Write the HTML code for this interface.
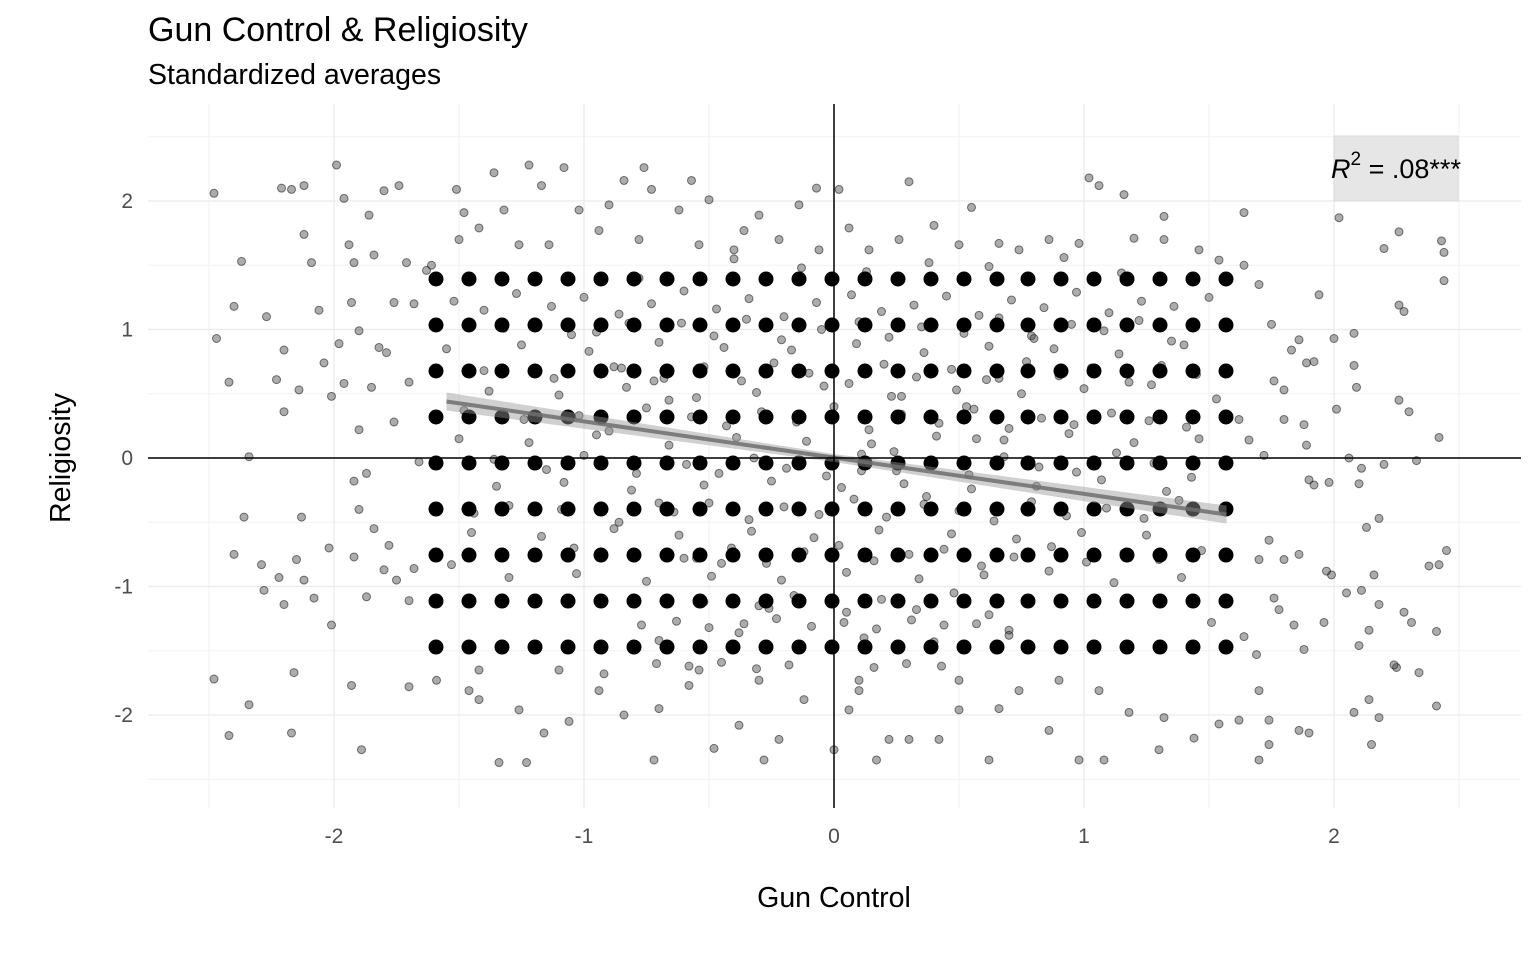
<!DOCTYPE html>
<html><head><meta charset="utf-8"><style>
body{margin:0;background:#fff;width:1536px;height:960px;overflow:hidden;font-family:"Liberation Sans",sans-serif}
</style></head><body>
<svg id="chart" width="1536" height="960" xmlns="http://www.w3.org/2000/svg" font-family="Liberation Sans, sans-serif">
<text x="148" y="41" font-size="34" fill="#000">Gun Control &amp; Religiosity</text>
<text x="148" y="84" font-size="28.5" fill="#000">Standardized averages</text>
<g id="grid"></g>
<g id="points"></g>
<g id="bigdots"></g>
<g id="fit"></g>
<g id="axes"></g>
<text x="834" y="907" font-size="28.5" text-anchor="middle">Gun Control</text>
<text transform="translate(70,458) rotate(-90)" font-size="28.5" text-anchor="middle">Religiosity</text>
<rect x="1334" y="136" width="124" height="65" fill="#e6e6e6" stroke="#d9d9d9"/>
<text x="1396" y="178" font-size="27" text-anchor="middle"><tspan font-style="italic">R</tspan><tspan dy="-13" font-size="19">2</tspan><tspan dy="13"> = .08***</tspan></text>
</svg>
<script>
const xTicks=[-2,-1,0,1,2];
const yTicks=[-2,-1,0,1,2];
const xTickLabels=["-2","-1","0","1","2"];
const yTickLabels=["-2","-1","0","1","2"];
const meanX=[-1.592,-1.46,-1.328,-1.196,-1.064,-0.932,-0.8,-0.668,-0.536,-0.404,-0.272,-0.14,-0.008,0.124,0.256,0.388,0.52,0.652,0.776,0.908,1.04,1.172,1.304,1.436,1.568];
const meanY=[1.393,1.035,0.677,0.319,-0.039,-0.397,-0.755,-1.113,-1.471];
const fitX=[-1.55,1.57];
const fitY=[0.44,-0.44];
const ptX=[-2.48,-2.47,-2.42,-2.37,-2.40,-2.34,-2.36,-2.40,-2.48,-2.42,-2.34,-2.29,-2.28,-2.27,-2.23,-2.20,-2.20,-2.21,-2.17,-2.12,-2.12,-2.09,-2.14,-2.16,-2.17,-2.22,-2.20,-2.12,-2.15,-2.13,-2.08,-2.02,-2.01,-2.06,-2.04,-2.01,-1.98,-1.96,-1.99,-1.96,-1.94,-1.92,-1.93,-1.90,-1.90,-1.92,-1.90,-1.92,-1.87,-1.86,-1.84,-1.85,-1.82,-1.80,-1.74,-1.79,-1.76,-1.76,-1.78,-1.80,-1.87,-1.93,-1.89,-1.84,-1.71,-1.68,-1.70,-1.70,-1.70,-1.68,-1.66,-1.63,-1.61,-1.75,
1.64,1.64,1.70,1.75,1.76,1.80,1.80,1.83,1.86,1.89,1.92,1.94,1.88,1.89,1.90,1.92,1.98,2.02,2.00,2.01,2.06,2.08,2.08,2.09,2.11,2.10,2.13,2.18,2.20,2.20,2.26,2.26,2.28,2.26,2.30,2.33,2.42,2.43,2.44,2.44,2.45,2.42,2.38,2.41,2.41,2.34,2.25,2.28,2.31,2.24,2.18,2.16,2.11,2.05,1.99,1.96,1.97,2.10,2.14,2.08,2.14,2.18,2.15,1.88,1.90,1.86,1.74,1.74,1.70,1.62,1.70,1.76,1.78,1.84,1.74,1.80,1.70,1.86,1.69,1.64,1.62,1.66,1.72,
-1.48,-1.51,-1.36,-1.32,-1.22,-1.17,-1.08,-1.02,-0.90,-0.84,-0.76,-0.73,-0.62,-0.57,-0.50,-0.36,-0.30,-0.14,-0.07,0.02,0.06,0.14,0.30,0.40,0.55,0.66,0.86,1.02,1.06,1.16,1.32,1.20,1.32,0.98,-1.50,-1.42,-1.26,-1.14,-0.94,-0.78,-0.54,-0.40,-0.22,-0.06,0.26,0.50,0.74,1.46,1.54,
-1.59,-1.46,-1.42,-1.34,-1.23,-1.26,-1.16,-1.06,-0.94,-0.84,-0.72,-0.70,-0.58,-0.48,-0.38,-0.28,-0.22,-0.12,0.00,0.06,0.10,0.17,0.22,0.30,0.42,0.50,0.62,0.66,0.74,0.86,0.98,1.08,1.18,1.30,1.32,1.44,1.54,1.06,0.90,0.50,0.10,-0.30,-0.54,-1.10,-1.42,
-1.52,-1.40,-1.27,-1.13,-1.00,-0.86,-0.73,-0.60,-0.47,-0.34,-0.20,-0.07,0.07,0.19,0.32,0.45,0.58,0.71,0.84,0.97,1.10,1.23,1.36,1.50,
-1.55,-1.38,-1.25,-1.10,-0.98,-0.83,-0.70,-0.55,-0.44,-0.31,-0.17,-0.04,0.09,0.23,0.36,0.49,0.62,0.75,0.88,1.00,1.14,1.27,1.40,1.53,
-1.50,-1.35,-1.22,-1.08,-0.95,-0.81,-0.66,-0.52,-0.39,-0.25,-0.11,0.03,0.15,0.28,0.41,0.55,0.68,0.81,0.94,1.07,1.20,1.33,1.46,
-1.45,-1.30,-1.17,-1.03,-0.88,-0.75,-0.62,-0.49,-0.33,-0.21,-0.08,0.05,0.18,0.34,0.47,0.60,0.73,0.86,0.99,1.12,1.25,1.39,1.51,
-0.77,-0.63,-0.50,-0.36,-0.23,-0.09,0.04,0.17,0.31,0.44,0.57,0.70,0.43,0.29,0.16,-0.18,-0.31,-0.45,-0.58,-0.71,0.11,0.24,0.37,0.53,0.66,0.79,-0.85,-0.66,-0.40,-0.13,0.13,0.38,0.62,0.92,1.15,
-0.92,-0.78,-0.61,-0.48,-0.35,-0.21,-0.05,0.10,0.22,0.35,0.52,0.66,0.80,0.95,1.08,1.22,1.35,-1.20,-1.05,-1.32,
-0.95,-0.82,-0.68,-0.52,-0.37,-0.24,-0.10,0.06,0.20,0.33,0.47,0.61,0.77,0.90,1.03,1.18,1.31,1.45,-1.40,-1.12,
-0.88,-0.72,-0.57,-0.43,-0.29,-0.15,0.00,0.14,0.27,0.42,0.56,0.70,0.83,0.96,1.11,1.26,1.41,-1.48,-1.24,-1.02,
-0.90,-0.75,-0.59,-0.46,-0.32,-0.19,-0.03,0.11,0.25,0.39,0.54,0.68,0.82,0.97,1.13,1.28,1.43,-1.36,-1.15,-1.00,
-0.93,-0.79,-0.64,-0.50,-0.34,-0.20,-0.06,0.08,0.21,0.36,0.50,0.64,0.79,0.93,1.09,1.24,1.38,-1.44,-1.30,-1.09,
-0.86,-0.70,-0.55,-0.41,-0.27,-0.12,0.02,0.16,0.30,0.44,0.59,0.72,0.87,1.01,1.16,1.30,1.47,-1.53,-1.19,-1.04,
-0.60,-0.45,-0.30,-0.16,0.05,0.19,0.33,0.48,0.62,-0.52,-0.26,0.12,0.40,0.70,-0.70,-0.38,0.27,0.57];
const ptY=[2.06,0.93,0.59,1.53,1.18,0.01,-0.46,-0.75,-1.72,-2.16,-1.92,-0.83,-1.03,1.10,0.61,0.36,0.84,2.10,2.09,2.12,1.74,1.52,0.53,-1.67,-2.14,-0.93,-1.14,-0.95,-0.79,-0.46,-1.09,-0.70,-1.30,1.15,0.74,0.48,0.89,0.58,2.28,2.02,1.66,1.52,1.21,0.99,0.22,-0.18,-0.40,-0.77,-0.12,1.89,1.58,0.55,0.86,2.08,2.12,0.82,0.28,1.21,-0.68,-0.87,-1.08,-1.77,-2.27,-0.55,1.52,1.20,0.59,-1.11,-1.78,-0.86,-0.03,1.46,1.50,-0.95,
1.91,1.50,1.35,1.04,0.60,0.53,0.30,0.84,0.92,0.74,0.75,1.27,0.26,0.10,-0.17,-0.21,-0.19,1.87,0.93,0.38,0.00,0.97,0.72,0.55,-0.08,-0.20,-0.54,-0.47,-0.05,1.63,1.76,1.19,1.14,0.45,0.36,-0.02,0.16,1.69,1.60,1.38,-0.72,-0.83,-0.84,-1.35,-1.93,-1.67,-1.63,-1.20,-1.28,-1.61,-1.14,-0.91,-1.03,-1.05,-0.91,-1.28,-0.88,-1.46,-1.34,-1.98,-1.88,-2.02,-2.23,-1.49,-2.14,-2.12,-2.04,-2.23,-2.35,-2.04,-1.81,-1.09,-1.18,-1.30,-0.64,-0.79,-0.79,-0.75,-1.53,-1.39,0.30,0.14,0.02,
1.91,2.09,2.22,1.93,2.28,2.12,2.26,1.93,1.97,2.16,2.26,2.09,1.93,2.16,2.01,1.77,1.89,1.97,2.10,2.09,1.79,1.62,2.15,1.81,1.95,1.67,1.70,2.18,2.12,2.05,1.88,1.71,1.70,1.67,1.70,1.79,1.66,1.66,1.77,1.70,1.66,1.62,1.70,1.62,1.70,1.66,1.62,1.62,1.54,
-1.73,-1.81,-1.88,-2.37,-2.37,-1.96,-2.14,-2.05,-1.81,-2.00,-2.35,-1.95,-1.77,-2.26,-2.08,-2.35,-2.19,-1.88,-2.27,-1.96,-1.81,-2.35,-2.19,-2.19,-2.19,-1.96,-2.35,-1.95,-1.81,-2.12,-2.35,-2.35,-1.98,-2.27,-2.02,-2.18,-2.07,-1.81,-1.73,-1.73,-1.73,-1.73,-1.65,-1.65,-1.65,
1.22,1.15,1.28,1.18,1.25,1.12,1.20,1.30,1.16,1.24,1.10,1.21,1.27,1.14,1.19,1.26,1.11,1.23,1.17,1.29,1.13,1.22,1.18,1.25,
0.85,0.52,0.88,0.49,0.83,0.55,0.90,0.47,0.86,0.51,0.84,0.56,0.89,0.48,0.82,0.53,0.87,0.50,0.85,0.54,0.81,0.57,0.88,0.46,
0.15,-0.22,0.12,-0.19,0.18,-0.25,0.10,-0.21,0.16,-0.18,0.13,-0.23,0.11,-0.20,0.17,-0.24,0.14,-0.22,0.19,-0.17,0.12,-0.26,0.15,
-0.58,-0.93,-0.61,-0.90,-0.55,-0.96,-0.60,-0.92,-0.57,-0.95,-0.62,-0.89,-0.56,-0.94,-0.59,-0.91,-0.63,-0.88,-0.58,-0.97,-0.60,-0.93,-1.28,
-1.30,-1.27,-1.32,-1.29,-1.25,-1.31,-1.28,-1.33,-1.26,-1.30,-1.29,-1.34,-1.62,-1.60,-1.63,-1.61,-1.64,-1.59,-1.62,-1.60,-0.10,0.05,-0.30,0.40,0.62,0.95,0.70,0.45,1.55,1.48,1.45,1.52,1.49,1.56,1.44,-1.68,1.40,
1.05,0.95,1.08,0.92,1.00,1.06,0.94,1.02,0.97,1.09,0.93,1.04,0.99,1.07,0.91,1.03,0.96,1.01,0.98,1.05,
0.62,0.71,0.60,0.74,0.66,0.58,0.73,0.63,0.69,0.61,0.75,0.64,0.70,0.59,0.72,0.65,0.68,0.62,0.71,0.60,
0.32,0.25,0.36,0.28,0.40,0.22,0.34,0.27,0.38,0.23,0.31,0.26,0.35,0.29,0.24,0.37,0.30,0.33,0.21,0.39,
-0.05,-0.12,0.00,-0.08,-0.14,0.03,-0.10,-0.02,-0.13,0.01,-0.07,-0.11,0.04,-0.04,-0.15,-0.01,-0.09,0.02,-0.06,-0.12,
-0.42,-0.35,-0.48,-0.38,-0.44,-0.32,-0.46,-0.36,-0.41,-0.49,-0.34,-0.45,-0.39,-0.47,-0.33,-0.43,-0.37,-0.40,-0.50,-0.35,
-0.78,-0.70,-0.82,-0.73,-0.68,-0.80,-0.75,-0.71,-0.84,-0.77,-0.69,-0.81,-0.74,-0.79,-0.72,-0.83,-0.76,-0.70,-0.78,-0.82,
-1.15,-1.07,-1.20,-1.10,-1.18,-1.05,-1.22,-1.12,-1.17,-1.40,-1.43,-1.38,-1.42,-1.36,0.48,0.15,-0.30,-0.60];
const NS="http://www.w3.org/2000/svg";
const L=148,R=1521,T=104,B=808;
const sx=v=>834+v*250, sy=v=>458-v*128.5;
function mk(tag,attrs,parent){const e=document.createElementNS(NS,tag);for(const k in attrs)e.setAttribute(k,attrs[k]);parent.appendChild(e);return e;}
const g=document.getElementById('grid');
[-2.5,-1.5,-0.5,0.5,1.5,2.5].forEach(v=>{const l=mk('line',{x1:sx(v),x2:sx(v),y1:T,y2:B,stroke:'#f2f2f2','stroke-width':1},g);});
[-2.5,-1.5,-0.5,0.5,1.5,2.5].forEach(v=>{const l=mk('line',{x1:L,x2:R,y1:sy(v),y2:sy(v),stroke:'#f2f2f2','stroke-width':1},g);});
xTicks.forEach((v,i)=>{const l=mk('line',{x1:sx(v),x2:sx(v),y1:T,y2:B,stroke:'#ebebeb','stroke-width':1.3},g);
const t=mk('text',{x:sx(v),y:843,'font-size':21,fill:'#4d4d4d','text-anchor':'middle'},g);t.textContent=xTickLabels[i];});
yTicks.forEach((v,i)=>{const l=mk('line',{x1:L,x2:R,y1:sy(v),y2:sy(v),stroke:'#ebebeb','stroke-width':1.3},g);
const t=mk('text',{x:133,y:sy(v)+7,'font-size':21,fill:'#4d4d4d','text-anchor':'end'},g);t.textContent=yTickLabels[i];});
const pg=document.getElementById('points');
ptX.forEach((x,i)=>{const c=mk('circle',{cx:sx(x),cy:sy(ptY[i]),r:4,fill:'rgba(70,70,70,0.45)',stroke:'rgba(0,0,0,0.5)','stroke-width':1},pg);});
const bg=document.getElementById('bigdots');
meanY.forEach(y=>meanX.forEach(x=>{const c=mk('circle',{cx:sx(x),cy:sy(y),r:7.5,fill:'#000'},bg);}));
const fg=document.getElementById('fit');
const x0=sx(fitX[0]),x1=sx(fitX[1]),y0=sy(fitY[0]),y1=sy(fitY[1]),xm=sx(0),ym=sy(0);
const rib=mk('path',{d:`M${x0},${y0-9} L${xm},${ym-4} L${x1},${y1-9} L${x1},${y1+9} L${xm},${ym+4} L${x0},${y0+9} Z`,fill:'rgba(150,150,150,0.45)'},fg);

const fl=mk('line',{x1:x0,y1:y0,x2:x1,y2:y1,stroke:'rgba(110,110,110,0.85)','stroke-width':4},fg);

const ag=document.getElementById('axes');
const va=mk('line',{x1:sx(0),x2:sx(0),y1:T,y2:B,stroke:'#000','stroke-width':1.5},ag);
const ha=mk('line',{x1:L,x2:R,y1:sy(0),y2:sy(0),stroke:'#000','stroke-width':1.5},ag);
</script>
</body></html>
